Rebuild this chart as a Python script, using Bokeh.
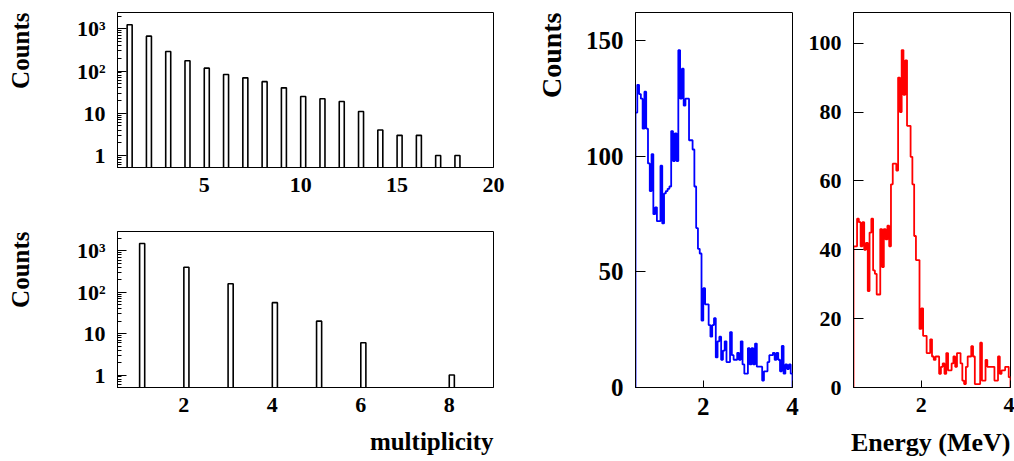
import numpy as np
from bokeh.plotting import figure
from bokeh.layouts import row, column
from bokeh.models import FixedTicker, Title
from bokeh.embed import file_html
from bokeh.resources import INLINE

FONT = "Liberation Serif"

# ---------------- data ----------------
mult_all = list(range(1, 19))
counts_all = [1250, 670, 290, 175, 117, 83, 69, 56, 40, 25, 22, 19, 11, 4, 3, 3, 1, 1]

mult_sel = list(range(1, 9))
counts_sel = [1500, 400, 160, 56, 20, 6, 0, 1]

log_ticks = [1, 10, 100, 1000]
log_tick_labels = ["1", "10", "10²", "10³"]

top_xticks = [5, 10, 15, 20]
bot_xticks = [2, 4, 6, 8]

e_start = 0.48
e_width = 0.04
blue_counts = [119, 131, 127, 125, 112, 128, 112, 97, 85, 101,
               75, 78, 72, 72, 96, 71, 84, 85, 86, 87,
               111, 98, 110, 98, 146, 125, 138, 122, 125, 125,
               107, 107, 103, 87, 69, 60, 58, 29, 43, 36,
               36, 27, 22, 27, 30, 13, 20, 22, 12, 16,
               20, 11, 11, 24, 14, 12, 12, 15, 12, 20,
               10, 6, 6, 17, 10, 17, 10, 19, 9, 9,
               9, 3, 7, 7, 11, 14, 14, 15, 12, 15,
               12, 7, 18, 6, 10, 8, 10, 6]
red_counts = [41, 41, 49, 48, 41, 48, 40, 42, 28, 45,
              49, 34, 33, 27, 27, 46, 35, 46, 43, 47,
              41, 59, 65, 65, 63, 90, 80, 98, 85, 95,
              76, 76, 67, 59, 44, 37, 37, 17, 23, 15,
              15, 10, 10, 14, 9, 8, 9, 9, 4, 6,
              7, 4, 10, 5, 5, 7, 9, 6, 10, 10,
              7, 2, 1, 6, 9, 9, 12, 9, 1, 1,
              1, 13, 2, 2, 8, 6, 6, 6, 6, 2,
              2, 9, 4, 5, 5, 6, 6, 3]
blue_yticks = [0, 50, 100, 150]
red_yticks = [0, 20, 40, 60, 80, 100]
energy_xticks = [2, 4]


def style(p, tick_size):
    p.grid.visible = False
    p.outline_line_color = "black"
    p.outline_line_width = 1
    p.background_fill_color = "white"
    p.border_fill_color = "white"
    for ax in p.axis:
        ax.axis_line_color = "black"
        ax.major_label_text_font = FONT
        ax.major_label_text_font_style = "bold"
        ax.major_label_text_font_size = tick_size
        ax.major_label_text_color = "black"
        ax.major_tick_out = 0
        ax.minor_tick_out = 0
        ax.major_tick_line_color = "black"
        ax.minor_tick_line_color = "black"


def gap(ax, px):
    # blank axis label used only as spacer between tick labels and the title
    ax.axis_label = " "
    ax.axis_label_text_font_size = "1px"
    ax.axis_label_standoff = px


def side_title(text, size, standoff=4):
    return Title(text=text, align="right", text_font=FONT, text_font_size=size,
                 text_font_style="bold", text_color="black", standoff=standoff)


def log_minor():
    m = []
    for d in [0.1, 1, 10, 100, 1000]:
        for k in range(2, 10):
            m.append(k * d)
    return m


def bar_panel(x, y, width, height, xr, yr, xticks, bar_w, mb):
    p = figure(width=width, height=height, x_range=xr, y_range=yr, y_axis_type="log",
               output_backend="svg", toolbar_location=None, title=None,
               min_border_left=mb[0], min_border_right=mb[1],
               min_border_top=mb[2], min_border_bottom=mb[3])
    xa = np.array(x, dtype=float)
    ya = np.array(y, dtype=float)
    keep = ya > 0
    p.quad(left=xa[keep], right=xa[keep] + bar_w, bottom=0.01, top=ya[keep],
           fill_color=None, line_color="black", line_width=1.6)
    style(p, "22px")
    p.xaxis.ticker = FixedTicker(ticks=xticks)
    p.xaxis.major_tick_in = 0
    p.xaxis.minor_tick_in = 0
    p.xaxis.major_label_standoff = 10
    p.yaxis.ticker = FixedTicker(ticks=log_ticks, minor_ticks=log_minor())
    p.yaxis.major_label_overrides = {t: s for t, s in zip(log_ticks, log_tick_labels)}
    p.yaxis.major_tick_in = 9
    p.yaxis.minor_tick_in = 4
    p.yaxis.major_label_standoff = 12
    gap(p.yaxis[0], 34)
    p.add_layout(side_title("Counts", "25px"), "left")
    return p


p1 = bar_panel(mult_all, counts_all, 520, 222, (0.5, 20), (0.52, 2430), top_xticks, 0.26,
               (117, 27, 12, 55))
p2 = bar_panel(mult_sel, counts_sel, 520, 239, (0.5, 9), (0.5, 2930), bot_xticks, 0.115,
               (117, 27, 9, 74))
gap(p2.xaxis[0], 7)
p2.add_layout(side_title("multiplicity", "25px", 0), "below")


def hist_panel(counts, color, width, height, ymax, yticks, tick_size, mb):
    p = figure(width=width, height=height, x_range=(e_start, 4.0), y_range=(0, ymax),
               output_backend="svg", toolbar_location=None, title=None,
               min_border_left=mb[0], min_border_right=mb[1],
               min_border_top=mb[2], min_border_bottom=mb[3])
    v = np.array(counts, dtype=float)
    edges = e_start + e_width * np.arange(len(v) + 1)
    xs = np.repeat(edges, 2)
    ys = np.concatenate([[0.0], np.repeat(v, 2), [0.0]])
    p.line(xs, ys, line_color=color, line_width=1.8)
    style(p, tick_size)
    p.xaxis.ticker = FixedTicker(ticks=energy_xticks)
    p.yaxis.ticker = FixedTicker(ticks=yticks)
    p.xaxis.major_tick_in = 7
    p.yaxis.major_tick_in = 10
    p.xaxis.minor_tick_in = 0
    p.yaxis.minor_tick_in = 0
    p.xaxis.major_label_standoff = 10
    p.yaxis.major_label_standoff = 12
    return p


p3 = hist_panel(blue_counts, "#0000ff", 280, 461, 162.3, blue_yticks, "25px", (115, 8, 12, 74))
gap(p3.yaxis[0], 10)
p3.add_layout(side_title("Counts", "28px"), "left")
p4 = hist_panel(red_counts, "#ff0000", 214, 461, 108.9, red_yticks, "22px", (53, 4, 12, 74))
gap(p4.xaxis[0], 7)
p4.add_layout(side_title("Energy (MeV)", "26px", 0), "below")

layout = row(column(p1, p2), p3, p4)

open("out.html", "w").write(file_html(layout, INLINE))
